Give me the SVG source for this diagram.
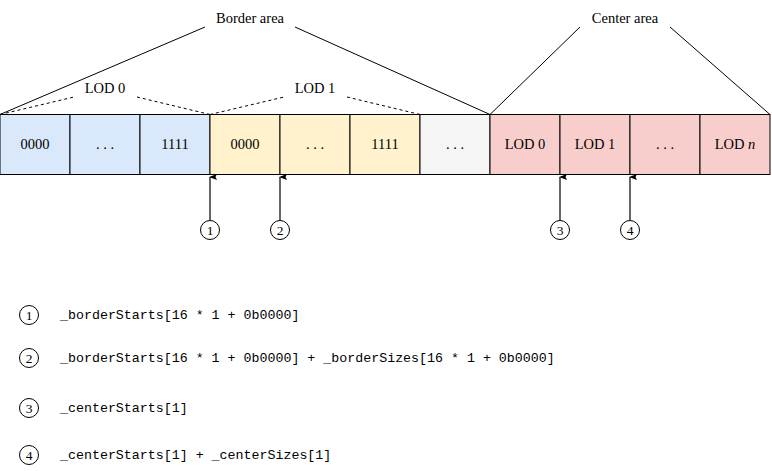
<svg xmlns="http://www.w3.org/2000/svg" width="772" height="471" viewBox="0 0 772 471">
<defs>
<marker id="ah" markerWidth="6" markerHeight="8" refX="3" refY="1" orient="auto" markerUnits="userSpaceOnUse" viewBox="0 0 6 8">
<path d="M3,0 L6,8 L3,6.5 L0,8 Z" fill="#000"/>
</marker>
</defs>
<style>
.cell{stroke:#000;stroke-width:1}
.b{fill:#dae8fc}.y{fill:#fff2cc}.g{fill:#f5f5f5}.r{fill:#f8cecc}
.t{font-family:"Liberation Serif","DejaVu Serif",serif;font-size:14.5px;fill:#000;text-anchor:middle;dominant-baseline:central}
.n{font-size:13.5px}
.m{font-family:"Liberation Mono","DejaVu Sans Mono",monospace;font-size:13.3px;fill:#000;dominant-baseline:central}
.ln{stroke:#000;stroke-width:1;fill:none}
.d{stroke:#000;stroke-width:1;fill:none;stroke-dasharray:3,3}
.c{fill:#fff;stroke:#000;stroke-width:1}
.ar{stroke:#000;stroke-width:1.2;fill:none;marker-end:url(#ah)}
</style>
<rect width="772" height="471" fill="#fff"/>
<g id="connectors">
<line class="ln" x1="0" y1="114.5" x2="205" y2="27"/>
<line class="ln" x1="295" y1="27" x2="490" y2="114.5"/>
<line class="ln" x1="580" y1="27" x2="490" y2="114.5"/>
<line class="ln" x1="670" y1="27" x2="770" y2="114.5"/>
<line class="d" x1="0" y1="114.5" x2="74" y2="97"/>
<line class="d" x1="137" y1="97" x2="210" y2="114.5"/>
<line class="d" x1="210" y1="114.5" x2="284" y2="97"/>
<line class="d" x1="347" y1="97" x2="420" y2="114.5"/>
<line class="ar" x1="210" y1="220" x2="210" y2="177"/>
<line class="ar" x1="280" y1="220" x2="280" y2="177"/>
<line class="ar" x1="560" y1="220" x2="560" y2="177"/>
<line class="ar" x1="630" y1="220" x2="630" y2="177"/>
</g>
<g id="labels">
<text class="t" x="250" y="18">Border area</text>
<text class="t" x="625" y="18">Center area</text>
<text class="t" x="105" y="88">LOD 0</text>
<text class="t" x="315" y="88">LOD 1</text>
</g>
<g id="cell-b0"><rect class="cell b" x="0" y="114.5" width="70" height="60"/><text class="t" x="35" y="144">0000</text></g>
<g id="cell-b1"><rect class="cell b" x="70" y="114.5" width="70" height="60"/><text class="t" x="105" y="144">. . .</text></g>
<g id="cell-b2"><rect class="cell b" x="140" y="114.5" width="70" height="60"/><text class="t" x="175" y="144">1111</text></g>
<g id="cell-y0"><rect class="cell y" x="210" y="114.5" width="70" height="60"/><text class="t" x="245" y="144">0000</text></g>
<g id="cell-y1"><rect class="cell y" x="280" y="114.5" width="70" height="60"/><text class="t" x="315" y="144">. . .</text></g>
<g id="cell-y2"><rect class="cell y" x="350" y="114.5" width="70" height="60"/><text class="t" x="385" y="144">1111</text></g>
<g id="cell-g"><rect class="cell g" x="420" y="114.5" width="70" height="60"/><text class="t" x="455" y="144">. . .</text></g>
<g id="cell-r0"><rect class="cell r" x="490" y="114.5" width="70" height="60"/><text class="t" x="525" y="144">LOD 0</text></g>
<g id="cell-r1"><rect class="cell r" x="560" y="114.5" width="70" height="60"/><text class="t" x="595" y="144">LOD 1</text></g>
<g id="cell-r2"><rect class="cell r" x="630" y="114.5" width="70" height="60"/><text class="t" x="665" y="144">. . .</text></g>
<g id="cell-rn"><rect class="cell r" x="700" y="114.5" width="70" height="60"/><text class="t" x="735" y="144">LOD <tspan font-style="italic">n</tspan></text></g>
<g id="m1"><circle class="c" cx="210" cy="230" r="9.5"/><text class="t n" x="210" y="230.5">1</text></g>
<g id="m2"><circle class="c" cx="280" cy="230" r="9.5"/><text class="t n" x="280" y="230.5">2</text></g>
<g id="m3"><circle class="c" cx="560" cy="230" r="9.5"/><text class="t n" x="560" y="230.5">3</text></g>
<g id="m4"><circle class="c" cx="630" cy="230" r="9.5"/><text class="t n" x="630" y="230.5">4</text></g>
<g id="legend1"><circle class="c" cx="29" cy="315" r="9.5"/><text class="t n" x="29" y="315.5">1</text><text class="m" x="60" y="315">_borderStarts[16 * 1 + 0b0000]</text></g>
<g id="legend2"><circle class="c" cx="29" cy="358" r="9.5"/><text class="t n" x="29" y="358.5">2</text><text class="m" x="60" y="358">_borderStarts[16 * 1 + 0b0000] + _borderSizes[16 * 1 + 0b0000]</text></g>
<g id="legend3"><circle class="c" cx="29" cy="408" r="9.5"/><text class="t n" x="29" y="408.5">3</text><text class="m" x="60" y="408">_centerStarts[1]</text></g>
<g id="legend4"><circle class="c" cx="29" cy="455" r="9.5"/><text class="t n" x="29" y="455.5">4</text><text class="m" x="60" y="455">_centerStarts[1] + _centerSizes[1]</text></g>
</svg>
